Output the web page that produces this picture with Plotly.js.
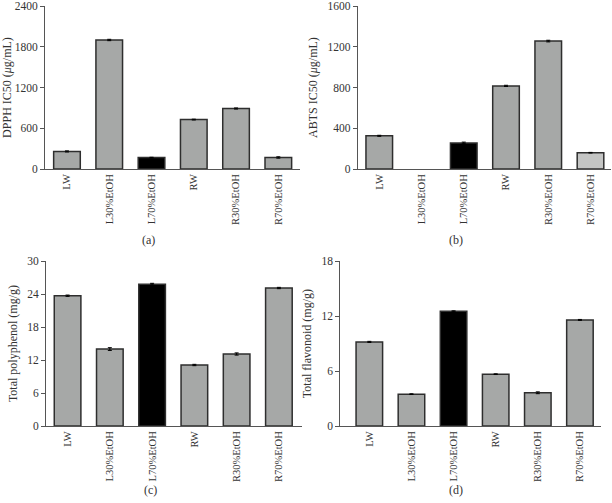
<!DOCTYPE html>
<html>
<head>
<meta charset="utf-8">
<script src="https://cdn.plot.ly/plotly-3.0.1.min.js"></script>
<style>html,body{margin:0;padding:0;background:#fff;}#chart{width:612px;height:503px;}</style>
</head>
<body>
<div id="chart"></div>
<script>
const categories = ["LW", "L30%EtOH", "L70%EtOH", "RW", "R30%EtOH", "R70%EtOH"];

const dpphValues = [259, 1900, 168, 728, 891, 170];
const dpphErrors = [8, 10, 5, 6, 8, 10];

const abtsValues = [326, null, 256, 816, 1256, 160];
const abtsErrors = [5, null, 8, 6, 8, 3];

const polyphenolValues = [23.7, 14.0, 25.8, 11.1, 13.1, 25.1];
const polyphenolErrors = [0.12, 0.25, 0.15, 0.12, 0.2, 0.12];

const flavonoidValues = [9.18, 3.48, 12.52, 5.66, 3.63, 11.58];
const flavonoidErrors = [0.06, 0.04, 0.05, 0.04, 0.1, 0.05];

const panelLabels = ["(a)", "(b)", "(c)", "(d)"];
const yTitles = ["DPPH IC50 (<i>μ</i>g/mL)", "ABTS IC50 (<i>μ</i>g/mL)", "Total polyphenol (mg/g)", "Total flavonoid (mg/g)"];

const GRAY = "#a6a8a7";
const BLACK = "#000000";
const LIGHT = "#c4c5c4";
const colorsA = [GRAY, GRAY, BLACK, GRAY, GRAY, GRAY];
const colorsB = [GRAY, GRAY, BLACK, GRAY, GRAY, LIGHT];

function barTrace(vals, errs, colors, xa, ya) {
  return {
    type: "bar", x: categories, y: vals, xaxis: xa, yaxis: ya,
    marker: {color: colors, line: {color: "#2e2e2e", width: 1.5}},
    error_y: {type: "data", array: errs, visible: true, color: "#000", thickness: 1, width: 2},
    showlegend: false, hoverinfo: "none"
  };
}

const data = [
  barTrace(dpphValues, dpphErrors, colorsA, "x", "y"),
  barTrace(abtsValues, abtsErrors, colorsB, "x2", "y2"),
  barTrace(polyphenolValues, polyphenolErrors, colorsA, "x3", "y3"),
  barTrace(flavonoidValues, flavonoidErrors, colorsA, "x4", "y4")
];

const fam = "'Liberation Serif', 'Times New Roman', serif";
const font = {family: fam, size: 11.5, color: "#333"};
const catFont = {family: fam, size: 10.5, color: "#333"};
const titleFont = {family: fam, size: 12, color: "#333"};

function xAxis(domain, range, anchor) {
  return {
    domain: domain, range: range, anchor: anchor, type: "category",
    showline: true, linecolor: "#555", linewidth: 1, ticks: "", tickangle: -90,
    tickfont: catFont, showgrid: false, zeroline: false, fixedrange: true
  };
}
function yAxis(domain, range, dtick, anchor, title) {
  return {
    domain: domain, range: range, dtick: dtick, tick0: 0, anchor: anchor,
    showline: true, linecolor: "#555", linewidth: 1, ticks: "outside", ticklen: 4, tickcolor: "#555",
    tickfont: font, showgrid: false, zeroline: false, fixedrange: true, ticklabeloverflow: "allow",
    title: {text: title, font: titleFont, standoff: 7}
  };
}

const layout = {
  width: 612, height: 503,
  margin: {l: 0, r: 0, t: 0, b: 0},
  paper_bgcolor: "#fff", plot_bgcolor: "#fff",
  bargap: 0.37,
  font: font,
  xaxis: xAxis([0.0735, 0.490], [-0.52, 5.51], "y"),
  yaxis: yAxis([0.664, 0.988], [0, 2400], 600, "x", yTitles[0]),
  xaxis2: xAxis([0.5845, 0.998], [-0.51, 5.48], "y2"),
  yaxis2: yAxis([0.664, 0.988], [0, 1600], 400, "x2", yTitles[1]),
  xaxis3: xAxis([0.0752, 0.493], [-0.51, 5.54], "y3"),
  yaxis3: yAxis([0.153, 0.481], [0, 30], 6, "x3", yTitles[2]),
  xaxis4: xAxis([0.556, 0.982], [-0.69, 5.5], "y4"),
  yaxis4: yAxis([0.153, 0.481], [0, 18], 6, "x4", yTitles[3]),
  annotations: [
    {text: panelLabels[0], x: 148, y: 240},
    {text: panelLabels[1], x: 456, y: 240},
    {text: panelLabels[2], x: 150, y: 490},
    {text: panelLabels[3], x: 456, y: 490}
  ].map(a => ({text: a.text, x: a.x / 612, y: 1 - a.y / 503, xref: "paper", yref: "paper",
    showarrow: false, font: titleFont, xanchor: "center", yanchor: "middle"}))
};

Plotly.newPlot("chart", data, layout, {displayModeBar: false, staticPlot: true});
</script>
</body>
</html>
